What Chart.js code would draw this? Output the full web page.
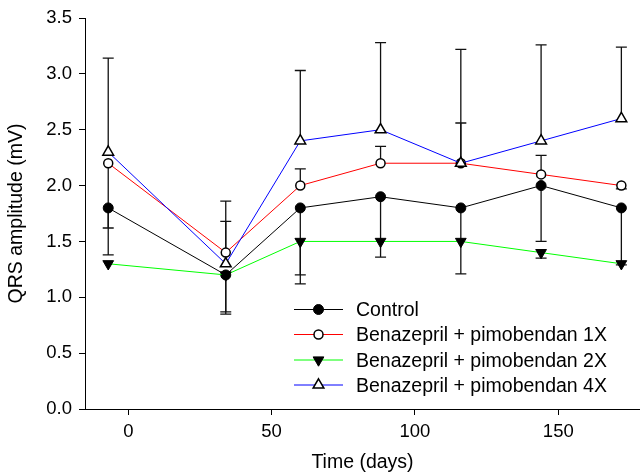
<!DOCTYPE html>
<html>
<head>
<meta charset="utf-8">
<script src="https://cdn.jsdelivr.net/npm/chart.js@4/dist/chart.umd.min.js"></script>
<style>
  html, body { margin: 0; padding: 0; background: #fff; }
  #wrap { width: 640px; height: 472px; }
</style>
</head>
<body>
<div id="wrap"><canvas id="c" width="640" height="472"></canvas></div>
<script>
// ---- data ----
const days = [-7, 34, 60, 88, 116, 144, 172];
const seriesNames = ["Control", "Benazepril + pimobendan 1X", "Benazepril + pimobendan 2X", "Benazepril + pimobendan 4X"];
const control  = [1.8, 1.2, 1.8, 1.9, 1.8, 2.0, 1.8];
const pimo1x   = [2.2, 1.4, 2.0, 2.2, 2.2, 2.1, 2.0];
const pimo2x   = [1.3, 1.2, 1.5, 1.5, 1.5, 1.4, 1.3];
const pimo4x   = [2.3, 1.3, 2.4, 2.5, 2.2, 2.4, 2.6];
// error bar end values (cap position), null = no visible bar
const controlErr = [1.38, 0.87, 1.12, 1.36, 1.21, 1.50, 1.29];
const pimo1xErr  = [1.62, 1.68, 2.15, 2.35, 2.56, 2.27, 1.97];
const pimo2xErr  = [null, 0.85, 1.20, null, null, 1.35, null];
const pimo4xErr  = [3.14, 1.86, 3.03, 3.28, 3.22, 3.26, 3.24];
const xTicks = [0, 50, 100, 150];
const yTicks = [0, 0.5, 1.0, 1.5, 2.0, 2.5, 3.0, 3.5];

const FONT = "'Liberation Sans', Arial, sans-serif";

const styles = [
  { color: '#000000', pointStyle: 'circle',   fill: '#000000', radius: 5,   rotation: 0,   bw: 1 },
  { color: '#ff0000', pointStyle: 'circle',   fill: '#ffffff', radius: 4.5, rotation: 0,   bw: 1.5 },
  { color: '#00ff00', pointStyle: 'triangle', fill: '#000000', radius: 6.2, rotation: 180, bw: 1 },
  { color: '#0000ff', pointStyle: 'triangle', fill: '#ffffff', radius: 6.2, rotation: 0,   bw: 1.5 }
];
const allValues = [control, pimo1x, pimo2x, pimo4x];
const allErr = [controlErr, pimo1xErr, pimo2xErr, pimo4xErr];

const datasets = allValues.map((vals, i) => ({
  label: seriesNames[i],
  data: days.map((d, j) => ({ x: d, y: vals[j] })),
  borderColor: styles[i].color,
  borderWidth: 1,
  pointStyle: styles[i].pointStyle,
  pointRadius: styles[i].radius,
  pointRotation: styles[i].rotation,
  pointBackgroundColor: styles[i].fill,
  pointBorderColor: '#000000',
  pointBorderWidth: styles[i].bw,
  pointHoverRadius: styles[i].radius,
  tension: 0,
  clip: false,
  order: 4 - i
}));

function drawMarker(ctx, st, x, y) {
  ctx.save();
  ctx.fillStyle = st.fill;
  ctx.strokeStyle = '#000';
  ctx.lineWidth = st.bw;
  ctx.beginPath();
  if (st.pointStyle === 'circle') {
    ctx.arc(x, y, st.radius, 0, Math.PI * 2);
  } else {
    let rad = st.rotation * Math.PI / 180;
    const r = st.radius;
    ctx.moveTo(x + Math.sin(rad) * r, y - Math.cos(rad) * r);
    rad += 2 * Math.PI / 3;
    ctx.lineTo(x + Math.sin(rad) * r, y - Math.cos(rad) * r);
    rad += 2 * Math.PI / 3;
    ctx.lineTo(x + Math.sin(rad) * r, y - Math.cos(rad) * r);
    ctx.closePath();
  }
  ctx.fill();
  ctx.stroke();
  ctx.restore();
}

const errorBars = {
  id: 'errorBars',
  beforeDatasetsDraw(chart) {
    const { ctx, scales: { x, y } } = chart;
    ctx.save();
    ctx.strokeStyle = '#111';
    ctx.lineWidth = 1.3;
    allErr.forEach((errs, i) => {
      errs.forEach((e, j) => {
        if (e === null) return;
        const px = x.getPixelForValue(days[j]);
        const py = y.getPixelForValue(allValues[i][j]);
        const pe = y.getPixelForValue(e);
        ctx.beginPath();
        ctx.moveTo(px, py);
        ctx.lineTo(px, pe);
        ctx.moveTo(px - 5.5, pe);
        ctx.lineTo(px + 5.5, pe);
        ctx.stroke();
      });
    });
    ctx.restore();
  }
};

const customLegend = {
  id: 'customLegend',
  afterDraw(chart) {
    const { ctx } = chart;
    const x0 = 294, x1 = 343, tx = 356;
    const rows = [309.5, 334.5, 360, 385];
    ctx.save();
    ctx.font = "19.5px " + FONT;
    ctx.textBaseline = 'middle';
    ctx.fillStyle = '#000';
    seriesNames.forEach((name, i) => {
      const yy = rows[i];
      ctx.strokeStyle = styles[i].color;
      ctx.lineWidth = 1;
      ctx.beginPath();
      ctx.moveTo(x0, yy);
      ctx.lineTo(x1, yy);
      ctx.stroke();
      drawMarker(ctx, styles[i], (x0 + x1) / 2, yy);
      ctx.fillStyle = '#000';
      ctx.fillText(name, tx, yy + 1.5);
    });
    ctx.restore();
  }
};

new Chart(document.getElementById('c'), {
  type: 'line',
  data: { datasets },
  options: {
    responsive: false,
    animation: false,
    devicePixelRatio: 1,
    layout: { autoPadding: false, padding: { top: 18, right: 0, left: 0, bottom: 0 } },
    plugins: { legend: { display: false }, tooltip: { enabled: false } },
    scales: {
      x: {
        type: 'linear',
        min: -15.1,
        max: 178.5,
        afterBuildTicks: (s) => { s.ticks = xTicks.map(v => ({ value: v })); },
        afterFit: (s) => { s.height = 63; s.paddingRight = 0; s.paddingLeft = 0; },
        grid: { drawOnChartArea: false, drawTicks: true, tickLength: 6, color: '#000', tickWidth: 1 },
        border: { display: true, color: '#000', width: 1 },
        ticks: { color: '#000', font: { family: FONT, size: 18.5 }, padding: 6, maxRotation: 0 },
        title: { display: true, text: 'Time (days)', color: '#000', font: { family: FONT, size: 19.5 }, padding: { top: 0, bottom: -2 } }
      },
      y: {
        min: 0,
        max: 3.5,
        afterBuildTicks: (s) => { s.ticks = yTicks.map(v => ({ value: v })); },
        afterFit: (s) => { s.width = 85; s.paddingTop = 0; s.paddingBottom = 0; },
        grid: { drawOnChartArea: false, drawTicks: true, tickLength: 6, color: '#000', tickWidth: 1 },
        border: { display: true, color: '#000', width: 1 },
        ticks: { color: '#000', font: { family: FONT, size: 18.5 }, padding: 7, callback: (v) => Number(v).toFixed(1) },
        title: { display: true, text: 'QRS amplitude (mV)', color: '#000', font: { family: FONT, size: 19.5 }, padding: { top: 5, bottom: 0 } }
      }
    }
  },
  plugins: [errorBars, customLegend]
});
</script>
</body>
</html>
